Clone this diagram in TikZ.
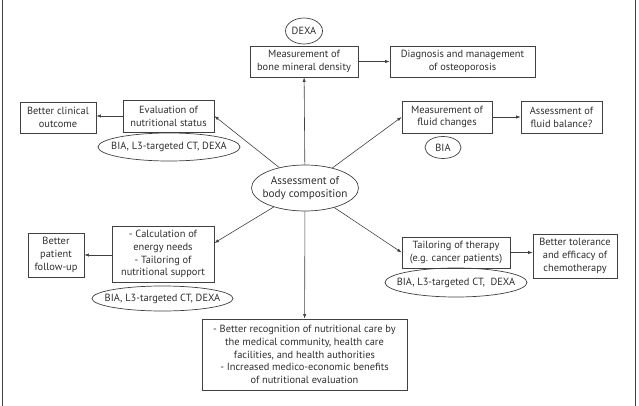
\documentclass[tikz,border=0pt]{standalone}
\usepackage{fontspec}
\setmainfont{PT Sans}
\usetikzlibrary{arrows.meta,shapes.geometric}
\definecolor{linec}{gray}{0.25}
\definecolor{textc}{gray}{0.18}
\begin{document}
\begin{tikzpicture}[x=1pt,y=-1pt,
  txt/.style={text=textc, align=center, inner sep=0pt, font=\fontsize{10.4}{12.8}\selectfont},
  box/.style={txt, draw=linec, line width=0.7pt},
  oval/.style={draw=linec, ellipse, line width=0.7pt, inner sep=0pt},
  arr/.style={-{Latex[length=4.5pt,width=3.2pt]}, draw=linec, line width=0.6pt}]
\useasboundingbox (0,0) rectangle (639,406);
\draw[linec, line width=1pt] (2,0) -- (2,406) (635,0) -- (635,406);

% centre
\node[oval, minimum width=107, minimum height=46] (center) at (305,188) {};
\node[txt, font=\fontsize{11.2}{13.5}\selectfont] (centertxt) at (center.center) {Assessment of\\body composition};

% top
\node[oval, minimum width=37, minimum height=26] (dexa) at (304,31) {};
\node[txt] (dexatxt) at (dexa.center) {DEXA};
\node[box, minimum width=108, minimum height=31] (bone) at (304,61.5) {Measurement of\\bone mineral density};
\node[box, minimum width=145, minimum height=31] (diag) at (462.5,61.5) {Diagnosis and management\\of osteoporosis};

% upper left
\node[box, minimum width=91, minimum height=32] (eval) at (168.5,116) {Evaluation of\\nutritional status};
\node[box, minimum width=76, minimum height=31] (outcome) at (58,117.5) {Better clinical\\outcome};
\node[oval, minimum width=142, minimum height=28] (ovA) at (169,147) {};
\node[txt] (ovAtxt) at (ovA.center) {BIA, L3-targeted CT, DEXA};

% upper right
\node[box, minimum width=90, minimum height=32] (fluid) at (447,117) {Measurement of\\fluid changes};
\node[box, minimum width=81, minimum height=32] (balance) at (561.5,117) {Assessment of\\fluid balance?};
\node[oval, minimum width=36, minimum height=22] (bia) at (443,147.5) {};
\node[txt] (biatxt) at (bia.center) {BIA};

% lower left
\node[box, minimum width=102, minimum height=56] (calc) at (163,254) {- Calculation of\\energy needs\\- Tailoring of\\nutritional support};
\node[box, minimum width=56, minimum height=44] (follow) at (56,255) {Better\\patient\\follow-up};
\node[oval, minimum width=141, minimum height=25] (ovB) at (162.5,298.5) {};
\node[txt] (ovBtxt) at (ovB.center) {BIA, L3-targeted CT, DEXA};

% lower right
\node[box, minimum width=108, minimum height=31] (tailor) at (456,252.5) {Tailoring of therapy\\(e.g. cancer patients)};
\node[box, minimum width=84, minimum height=44] (toler) at (575,256) {Better tolerance\\and efficacy of\\chemotherapy};
\node[oval, minimum width=142, minimum height=29] (ovC) at (456,282.5) {};
\node[txt] (ovCtxt) at (ovC.center) {BIA, L3-targeted CT,\ \ DEXA};

% bottom
\node[box, minimum width=205, minimum height=71] (bottom) at (304.5,354.5) {- Better recognition of nutritional care by\\the medical community, health care\\facilities, and health authorities\\- Increased medico-economic benefits\\of nutritional evaluation};

% connectors
\draw[arr] (center) -- (bone);
\draw[arr] (bone) -- (diag);
\draw[arr] (center) -- (eval.east);
\draw[arr] (eval.west) -- (outcome.east |- eval.west);
\draw[arr] (center) -- (fluid.west);
\draw[arr] (fluid) -- (balance);
\draw[arr] (center) -- ([yshift=11pt]calc.east);
\draw[arr] (calc.west |- follow.east) -- (follow.east);
\draw[arr] (center) -- (tailor.west);
\draw[arr] (tailor.east) -- (toler.west |- tailor.east);
\draw[arr] (center) -- (bottom);
\end{tikzpicture}
\end{document}
